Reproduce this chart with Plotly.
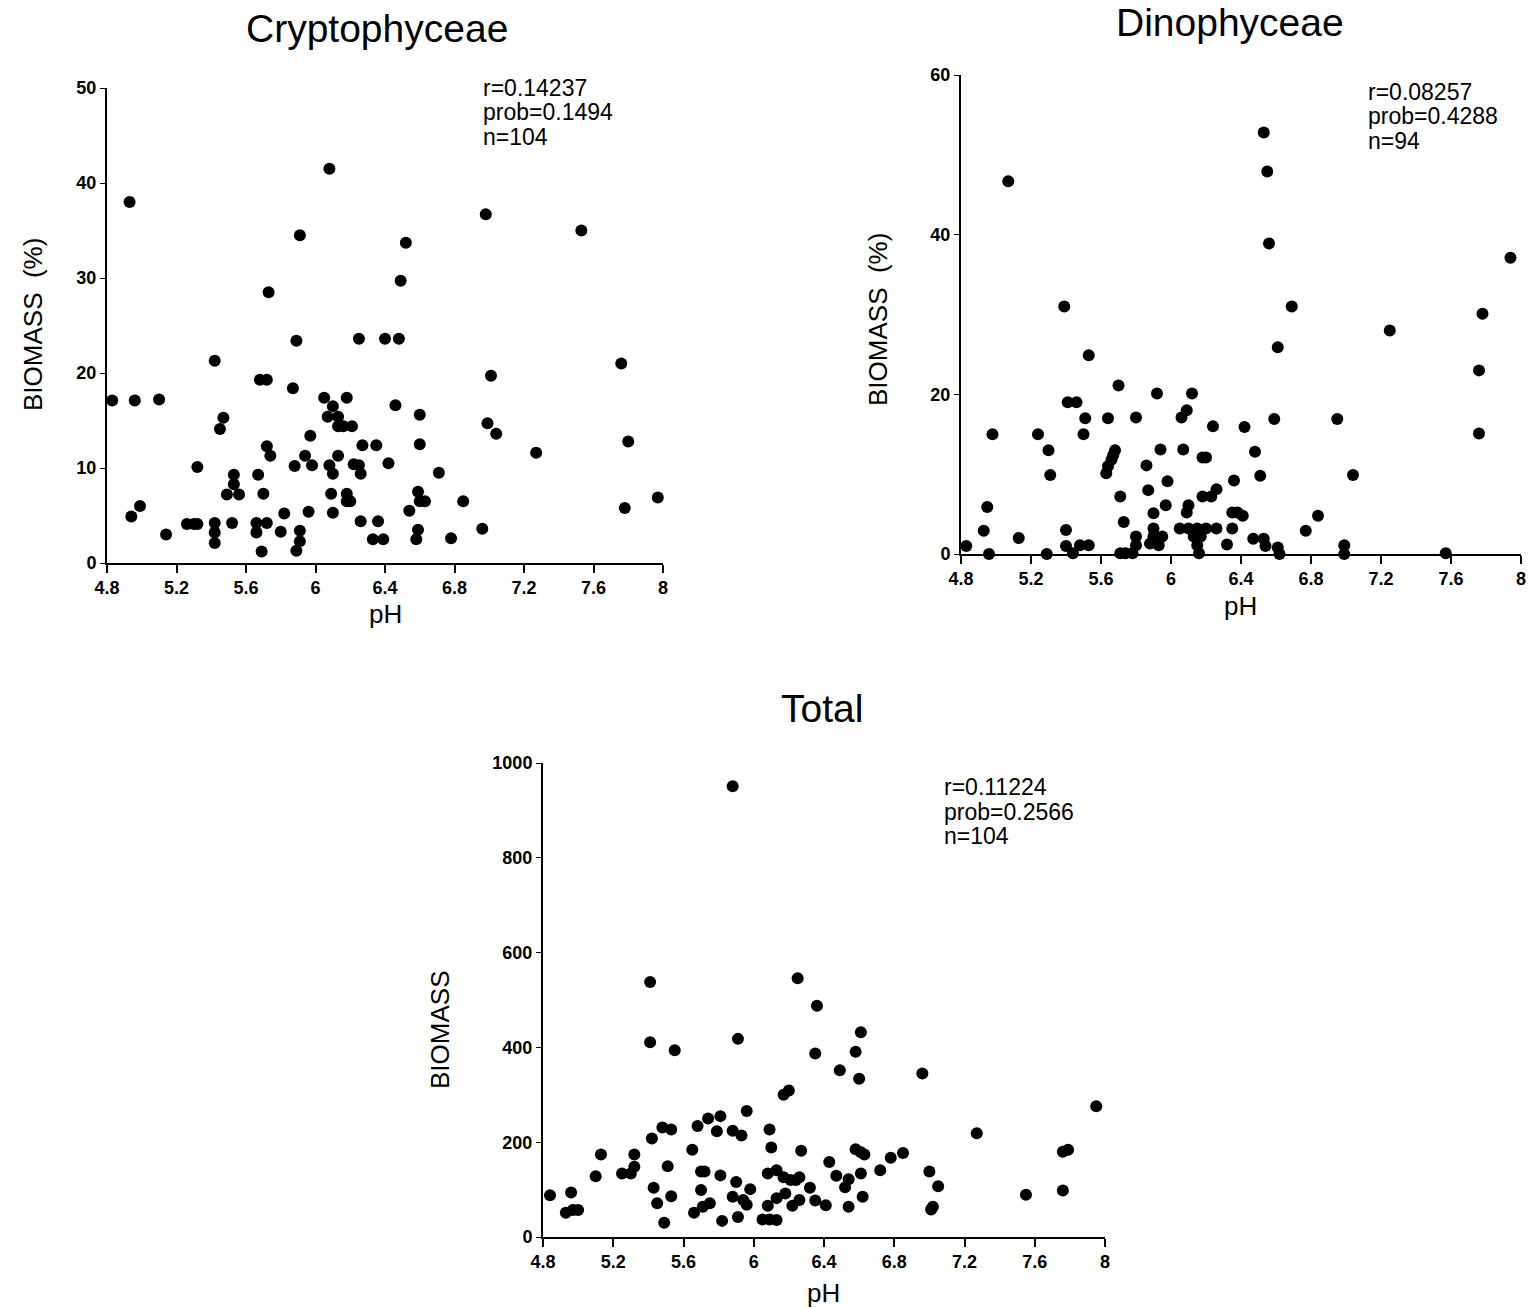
import plotly.graph_objects as go

W, H = 1528, 1308

# ---------------- data ----------------
ph_ticks = [4.8, 5.2, 5.6, 6.0, 6.4, 6.8, 7.2, 7.6, 8.0]
ph_ticktext = ["4.8", "5.2", "5.6", "6", "6.4", "6.8", "7.2", "7.6", "8"]

crypto_ph = [4.83, 4.93, 4.94, 4.96, 4.99, 5.10, 5.14, 5.26, 5.30, 5.32, 5.32, 5.42, 5.42, 5.42, 5.42,
             5.45, 5.47, 5.49, 5.52, 5.53, 5.53, 5.56, 5.66, 5.66, 5.67, 5.68, 5.69, 5.70, 5.72, 5.72,
             5.72, 5.73, 5.74, 5.80, 5.82, 5.87, 5.88, 5.89, 5.89, 5.91, 5.91, 5.91, 5.94, 5.96, 5.97,
             5.98, 6.05, 6.07, 6.08, 6.08, 6.09, 6.10, 6.10, 6.10, 6.13, 6.13, 6.13, 6.16, 6.18, 6.18,
             6.18, 6.20, 6.21, 6.22, 6.25, 6.25, 6.26, 6.26, 6.27, 6.33, 6.35, 6.36, 6.39, 6.40, 6.42,
             6.46, 6.48, 6.49, 6.52, 6.54, 6.58, 6.59, 6.59, 6.60, 6.63, 6.60, 6.60, 6.71, 6.78, 6.85,
             6.96, 6.98, 6.99, 7.01, 7.04, 7.27, 7.53, 7.76, 7.78, 7.80, 7.97]
crypto_biomass = [17.1, 38.0, 4.9, 17.1, 6.0, 17.2, 3.0, 4.1, 4.1, 4.1, 10.1, 21.3, 4.2, 3.2, 2.1,
                  14.1, 15.3, 7.2, 4.2, 9.3, 8.3, 7.2, 4.2, 3.2, 9.3, 19.3, 1.2, 7.3, 19.3, 4.2,
                  12.3, 28.5, 11.3, 3.3, 5.2, 18.4, 10.2, 23.4, 1.3, 34.5, 3.4, 2.3, 11.3, 5.4, 13.4,
                  10.3, 17.4, 15.4, 41.5, 10.3, 7.3, 16.5, 9.4, 5.3, 15.4, 14.4, 11.3, 14.4, 17.4, 7.3,
                  6.5, 6.5, 14.4, 10.4, 23.6, 10.3, 9.4, 4.4, 12.4, 2.5, 12.4, 4.4, 2.5, 23.6, 10.5,
                  16.6, 23.6, 29.7, 33.7, 5.5, 2.5, 3.5, 7.5, 6.5, 6.5, 15.6, 12.5, 9.5, 2.6, 6.5,
                  3.6, 36.7, 14.7, 19.7, 13.6, 11.6, 35.0, 21.0, 5.8, 12.8, 6.9]

dino_ph = [5.07, 5.39, 5.53, 5.70, 5.92, 6.12, 5.41, 5.46, 5.51, 5.64, 5.80, 6.09, 6.06, 6.24, 4.98,
           5.24, 5.50, 5.30, 5.31, 5.68, 5.67, 5.66, 5.64, 5.63, 5.94, 6.07, 6.18, 6.20, 5.86, 5.98,
           6.36, 5.87, 5.71, 6.26, 6.23, 6.18, 4.95, 5.97, 6.10, 6.09, 5.90, 6.35, 6.38, 5.73, 4.93,
           5.40, 5.13, 6.35, 5.90, 5.90, 5.95, 5.88, 5.93, 6.05, 6.10, 6.15, 6.20, 6.26, 6.13, 6.17,
           6.15, 6.16, 5.80, 5.80, 5.78, 5.74, 5.71, 6.32, 4.83, 4.96, 5.29, 5.40, 5.44, 5.48, 5.53,
           6.53, 6.55, 6.56, 6.69, 6.61, 6.59, 6.95, 7.25, 7.94, 7.78, 7.76, 7.76, 6.42, 6.48, 6.51,
           7.04, 6.41, 6.84, 6.77, 6.47, 6.53, 6.54, 6.61, 6.62, 6.99, 6.99, 7.57]
dino_biomass = [46.7, 31.0, 24.9, 21.1, 20.1, 20.1, 19.0, 19.0, 17.0, 17.0, 17.1, 18.0, 17.1, 16.0, 15.0,
                15.0, 15.0, 13.0, 9.9, 13.0, 12.4, 11.8, 11.0, 10.1, 13.1, 13.1, 12.1, 12.1, 11.1, 9.1,
                9.2, 8.0, 7.2, 8.1, 7.2, 7.2, 5.9, 6.1, 6.1, 5.2, 5.1, 5.2, 5.2, 4.0, 2.9,
                3.0, 2.0, 3.2, 3.2, 2.2, 2.2, 1.3, 1.1, 3.2, 3.2, 3.2, 3.2, 3.2, 2.2, 2.2,
                1.1, 0.1, 2.2, 1.1, 0.1, 0.1, 0.1, 1.2, 1.0, 0.0, 0.0, 1.0, 0.1, 1.1, 1.1,
                52.8, 47.9, 38.9, 31.0, 25.9, 16.9, 16.9, 28.0, 37.1, 30.1, 23.0, 15.1, 15.9, 12.8, 9.8,
                9.9, 4.8, 4.8, 2.9, 1.9, 1.9, 1.0, 0.8, 0.0, 1.1, 0.0, 0.1]

total_ph = [5.88, 5.41, 5.41, 5.55, 5.91, 6.25, 6.36, 6.35, 6.17, 6.20, 5.96, 5.81, 5.74, 5.68, 5.79,
            5.88, 5.93, 5.48, 5.53, 5.42, 6.09, 6.10, 6.27, 5.13, 5.32, 5.65, 5.10, 5.25, 5.30, 5.32,
            5.51, 5.70, 5.72, 5.81, 6.08, 6.13, 6.17, 6.21, 6.24, 6.26, 4.84, 4.96, 4.93, 4.97, 5.00,
            5.43, 5.53, 5.45, 5.49, 5.70, 5.66, 5.71, 5.75, 5.82, 5.90, 5.88, 5.94, 5.96, 5.98, 5.91,
            6.08, 6.05, 6.09, 6.13, 6.13, 6.18, 6.22, 6.26, 6.32, 6.35,
            6.61, 6.58, 6.49, 6.60, 6.96, 7.27, 7.95, 7.76, 7.79, 7.76, 7.55, 6.58, 6.61, 6.63, 6.78,
            6.85, 6.72, 6.61, 6.43, 6.47, 6.54, 6.52, 6.41, 6.54, 6.62, 7.00, 7.05, 7.01, 7.02]
total_biomass = [951, 538, 411, 394, 418, 546, 488, 387, 300, 309, 266, 255, 250, 234, 223,
                 224, 214, 231, 227, 208, 227, 189, 182, 174, 174, 184, 128, 134, 134, 148,
                 149, 138, 138, 130, 134, 141, 126, 120, 120, 126, 88, 94, 51, 57, 57,
                 104, 86, 71, 30, 99, 51, 64, 71, 34, 116, 85, 78, 68, 101, 42,
                 66, 37, 37, 36, 82, 92, 66, 78, 104, 77,
                 432, 391, 352, 334, 345, 219, 276, 180, 184, 98, 89, 185, 179, 174, 167,
                 177, 141, 134, 158, 129, 122, 105, 67, 64, 85, 138, 107, 58, 64]

titles = ["Cryptophyceae", "Dinophyceae", "Total"]
y_titles = ["BIOMASS  (%)", "BIOMASS  (%)", "BIOMASS"]
stats = [["r=0.14237", "prob=0.1494", "n=104"],
         ["r=0.08257", "prob=0.4288", "n=94"],
         ["r=0.11224", "prob=0.2566", "n=104"]]

# ---------------- layout helpers ----------------
def fx(px):
    return px / W

def fy(py):
    return 1 - py / H

FONT = "Liberation Sans"
tickfont = dict(family=FONT, size=18, color="black", weight="bold")

def xax(x0, x1):
    return dict(domain=[fx(x0), fx(x1)], range=[4.8, 8.0], tickvals=ph_ticks, ticktext=ph_ticktext,
                showline=True, linecolor="black", linewidth=1.5, ticks="outside", ticklen=8,
                tickwidth=1.5, tickcolor="black", showgrid=False, zeroline=False, tickfont=tickfont,
                automargin=False, fixedrange=True)

def yax(y_bottom, y_top, rng, dtick):
    return dict(domain=[fy(y_bottom), fy(y_top)], range=rng, dtick=dtick, tick0=0,
                showline=True, linecolor="black", linewidth=2, ticks="outside", ticklen=5,
                tickwidth=1, tickcolor="black", showgrid=False, zeroline=False, tickfont=tickfont,
                automargin=False, fixedrange=True)

marker = dict(color="black", size=12, line=dict(width=0))

fig = go.Figure()
fig.add_trace(go.Scatter(x=crypto_ph, y=crypto_biomass, mode="markers", marker=marker,
                         xaxis="x", yaxis="y", cliponaxis=False, showlegend=False))
fig.add_trace(go.Scatter(x=dino_ph, y=dino_biomass, mode="markers", marker=marker,
                         xaxis="x2", yaxis="y2", cliponaxis=False, showlegend=False))
fig.add_trace(go.Scatter(x=total_ph, y=total_biomass, mode="markers", marker=marker,
                         xaxis="x3", yaxis="y3", cliponaxis=False, showlegend=False))

# panel pixel geometry: (x_left, x_right, y_bottom, y_top)
geo = [(107, 663, 563, 88), (961, 1521, 554, 75), (543, 1105, 1237, 763)]
yr = [([0, 50], 10), ([0, 60], 20), ([0, 1000], 200)]

layout = dict(width=W, height=H, margin=dict(l=0, r=0, t=0, b=0, pad=0, autoexpand=False),
              paper_bgcolor="white", plot_bgcolor="white", showlegend=False)
for i, (g, (rng, dt)) in enumerate(zip(geo, yr)):
    sx = "" if i == 0 else str(i + 1)
    layout["xaxis" + sx] = dict(xax(g[0], g[1]), anchor="y" + sx)
    layout["yaxis" + sx] = dict(yax(g[2], g[3], rng, dt), anchor="x" + sx)
fig.update_layout(**layout)

ann = []
title_pos = [(377, 28), (1230, 22), (822, 708)]
for t, (px, py) in zip(titles, title_pos):
    ann.append(dict(text=t, x=fx(px), y=fy(py), xref="paper", yref="paper", showarrow=False,
                    xanchor="center", yanchor="middle", font=dict(family=FONT, size=39, color="black")))
ytitle_pos = [(33, 325), (878, 320), (440, 1030)]
for t, (px, py) in zip(y_titles, ytitle_pos):
    ann.append(dict(text=t, x=fx(px), y=fy(py), xref="paper", yref="paper", showarrow=False,
                    textangle=-90, xanchor="center", yanchor="middle",
                    font=dict(family=FONT, size=26, color="black")))
ph_pos = [(386, 614), (1240, 606), (824, 1293)]
for (px, py) in ph_pos:
    ann.append(dict(text="pH", x=fx(px), y=fy(py), xref="paper", yref="paper", showarrow=False,
                    xanchor="center", yanchor="middle", font=dict(family=FONT, size=26, color="black")))
stat_pos = [(481, 88), (1366, 92), (942, 787)]
for lines, (px, py) in zip(stats, stat_pos):
    for k, line in enumerate(lines):
        ann.append(dict(text=line, x=fx(px), y=fy(py + 24.5 * k), xref="paper", yref="paper",
                        showarrow=False, xanchor="left", yanchor="middle",
                        font=dict(family=FONT, size=23, color="black")))
fig.update_layout(annotations=ann)

fig.write_html("out.html")
